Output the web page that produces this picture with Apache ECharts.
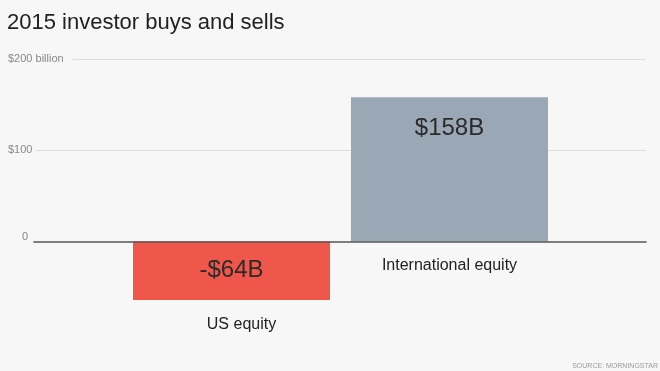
<!DOCTYPE html>
<html>
<head>
<meta charset="utf-8">
<script src="https://cdn.jsdelivr.net/npm/echarts@6/dist/echarts.min.js"></script>
<style>
  html, body { margin: 0; padding: 0; background: #f7f7f7; }
  #chart { width: 660px; height: 371px; }
</style>
</head>
<body>
<div id="chart"></div>
<script>
const categories = ['US equity', 'International equity'];
const values = [-64, 158];
const valueLabels = ['-$64B', '$158B'];
const yTicks = [-100, 0, 100, 200];
const yTickLabels = ['', '0', '$100', '$200 billion'];
const titleText = '2015 investor buys and sells';
const sourceText = 'SOURCE: MORNINGSTAR';

const BG = '#f7f7f7';
const FONT = '"Liberation Sans", Arial, Helvetica, sans-serif';
const barColors = ['#f0574b', '#9aa7b4'];

const chart = echarts.init(document.getElementById('chart'), null, { renderer: 'canvas' });

const yRange = { min: yTicks[0], max: yTicks[yTicks.length - 1], interval: 100 };
// grid geometry: top at y=59, zero at y=241.5
const gridTop = 59, gridBottom = 38.25;
const gridHeight = 371 - gridTop - gridBottom;
const zeroFromBottom = gridHeight * (0 - yRange.min) / (yRange.max - yRange.min);

chart.setOption({
  backgroundColor: BG,
  animation: false,
  title: [
    { text: titleText, left: 7, top: 12, padding: 0,
      textStyle: { fontFamily: FONT, fontSize: 22, fontWeight: 'normal', color: '#222' } },
    { text: sourceText, right: 2, bottom: 1, padding: 0,
      textStyle: { fontFamily: FONT, fontSize: 7, fontWeight: 'normal', color: '#9a9a9a' } }
  ],
  grid: [
    { left: 34, right: 14, top: gridTop, bottom: gridBottom, outerBoundsMode: 'none', containLabel: false },
    { left: 122.5, right: 101.5, top: gridTop, bottom: gridBottom, outerBoundsMode: 'none', containLabel: false }
  ],
  xAxis: [
    { type: 'value', gridIndex: 0, min: 0, max: 1, z: 3,
      axisLine: { show: true, onZero: true, lineStyle: { color: '#555', width: 1.6 } },
      axisTick: { show: false }, axisLabel: { show: false }, splitLine: { show: false } },
    { type: 'category', gridIndex: 1, data: categories, position: 'bottom',
      offset: -zeroFromBottom,
      axisLine: { show: false, onZero: false },
      axisTick: { show: false },
      axisLabel: {
        margin: 16,
        formatter: (v, i) => (values[i] < 0 ? '{neg|' + v + '}' : '{pos|' + v + '}'),
        rich: {
          neg: { fontFamily: FONT, fontSize: 16, color: '#222', padding: [59, 0, 0, 20] },
          pos: { fontFamily: FONT, fontSize: 16, color: '#222' }
        }
      } }
  ],
  yAxis: [
    { type: 'value', gridIndex: 0, position: 'left', ...yRange, z: 0,
      axisLine: { show: false }, axisTick: { show: false }, axisLabel: { show: false },
      splitLine: { show: true, lineStyle: { color: ['transparent', 'transparent', '#dedede', '#dedede'], width: 1 } } },
    { type: 'value', gridIndex: 0, position: 'left', offset: 0, ...yRange, z: 4,
      axisLine: { show: false }, axisTick: { show: false }, splitLine: { show: false },
      axisLabel: {
        align: 'left', margin: 26,
        formatter: (v) => {
          const i = yTicks.indexOf(v);
          const t = i >= 0 ? yTickLabels[i] : '';
          if (!t) return '';
          if (v === 0) return '{z|' + t + '}';
          if (v === yTicks[yTicks.length - 1]) return '{top|' + t + '}';
          return '{mid|' + t + '}';
        },
        rich: {
          z: { fontFamily: FONT, fontSize: 11, color: '#888', padding: [0, 0, 10, 14] },
          mid: { fontFamily: FONT, fontSize: 11, color: '#888', backgroundColor: BG, padding: [3, 3, 3, 0] },
          top: { fontFamily: FONT, fontSize: 11, color: '#888', backgroundColor: BG, padding: [3, 9, 3, 0] }
        }
      } },
    { type: 'value', gridIndex: 1, ...yRange, show: false }
  ],
  series: [
    {
      type: 'bar', xAxisIndex: 1, yAxisIndex: 2, barWidth: 197, z: 2,
      data: values.map((v, i) => ({
        value: v,
        itemStyle: { color: barColors[i] },
        label: v < 0 ? { position: 'inside' } : { position: 'insideTop', distance: 19 }
      })),
      label: {
        show: true,
        fontFamily: FONT, fontSize: 24, color: '#2b2b2b',
        formatter: (p) => valueLabels[p.dataIndex]
      }
    }
  ]
});
</script>
</body>
</html>
